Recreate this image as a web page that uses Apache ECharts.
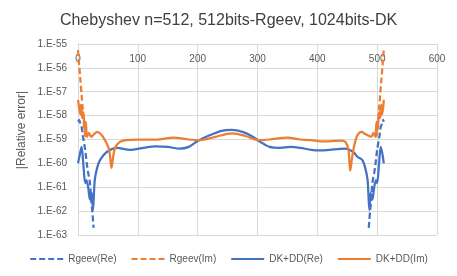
<!DOCTYPE html>
<html><head><meta charset="utf-8">
<script src="https://cdn.jsdelivr.net/npm/echarts@6/dist/echarts.min.js"></script>
<style>html,body{margin:0;padding:0;background:#fff}#c{width:457px;height:276px}</style>
</head><body><div id="c"></div>
<script>
var titleText = 'Chebyshev n=512, 512bits-Rgeev, 1024bits-DK';
var seriesNames = ['Rgeev(Re)', 'Rgeev(Im)', 'DK+DD(Re)', 'DK+DD(Im)'];
var xTicks = [0, 100, 200, 300, 400, 500, 600];
var yTickExponents = [-63, -62, -61, -60, -59, -58, -57, -56, -55];

var rgeevReX = [0, 2, 4, 6, 8, 12, 15, 17, 20, 22, 24, 26, null, 486, 488, 490, 492, 495, 497, 500, 504, 506, 508, 510, 511];
var rgeevReY = [5.5e-59, 6.6e-59, 4.5e-59, 3.4e-59, 1.5e-59, 3.7e-60, 8.7e-61, 4.0e-61, 1.5e-61, 3.0e-62, 9.3e-63, 2.0e-63, null, 2.0e-63, 9.3e-63, 3.0e-62, 1.5e-61, 4.0e-61, 8.7e-61, 3.7e-60, 1.5e-59, 3.4e-59, 4.5e-59, 6.6e-59, 5.5e-59];

var rgeevImX = [0, 2, 4, 6, 8, 10, 12, 14, null, 497, 499, 501, 503, 505, 507, 509, 511];
var rgeevImY = [5.6e-56, 1.3e-56, 3.1e-57, 7.4e-58, 1.7e-58, 4.1e-59, 1.5e-59, 1.3e-59, null, 1.3e-59, 1.5e-59, 4.1e-59, 1.7e-58, 7.4e-58, 3.1e-57, 1.3e-56, 5.6e-56];

var dkReX = [0, 3, 6, 9, 12, 14, 17, 20, 23, 25, 28, 32, 37, 48, 65, 87, 110, 130, 150, 170, 185, 200, 220, 240, 257, 275, 290, 305, 320, 338, 355, 371, 390, 405, 420, 446, 460, 467, 475, 480, 484, 487, 489, 492, 495, 498, 500, 503, 506, 509, 511];
var dkReY = [1.0e-60, 2.3e-60, 4.9e-60, 8.7e-61, 1.5e-61, 2.0e-61, 1.0e-61, 3.0e-62, 5.8e-62, 1.1e-62, 2.0e-61, 6.5e-61, 1.4e-60, 3.0e-60, 4.5e-60, 3.7e-60, 4.5e-60, 5.1e-60, 4.9e-60, 4.1e-60, 4.9e-60, 8.7e-60, 1.5e-59, 2.3e-59, 2.5e-59, 2.1e-59, 1.4e-59, 7.9e-60, 4.9e-60, 4.5e-60, 4.9e-60, 4.5e-60, 3.7e-60, 3.5e-60, 3.7e-60, 4.1e-60, 3.0e-60, 1.9e-60, 1.4e-60, 6.5e-61, 2.0e-61, 1.1e-62, 5.8e-62, 3.0e-62, 1.0e-61, 2.0e-61, 1.5e-61, 8.7e-61, 4.9e-60, 2.3e-60, 1.0e-60];

var dkImX = [0, 2, 4, 5, 7, 9, 11, 13, 15, 18, 22, 27, 32, 38, 45, 52, 56, 58, 62, 70, 80, 100, 130, 160, 185, 205, 230, 257, 280, 300, 320, 350, 371, 390, 405, 430, 440, 447, 452, 455, 458, 462, 467, 474, 480, 490, 494, 497, 499, 501, 503, 505, 507, 508, 510, 511];
var dkImY = [4.6e-58, 2.1e-58, 1.1e-58, 2.8e-58, 8.0e-59, 1.4e-58, 2.5e-59, 5.5e-59, 1.3e-59, 1.9e-59, 1.3e-59, 1.7e-59, 2.1e-59, 1.7e-59, 9.5e-60, 3.7e-60, 6.5e-61, 1.4e-60, 4.5e-60, 7.9e-60, 9.5e-60, 1.0e-59, 1.0e-59, 1.2e-59, 1.0e-59, 9.5e-60, 1.3e-59, 1.8e-59, 1.4e-59, 9.5e-60, 1.0e-59, 1.2e-59, 1.0e-59, 9.5e-60, 8.3e-60, 8.7e-60, 9.0e-60, 7.9e-60, 3.7e-60, 5.0e-61, 1.7e-60, 6.0e-60, 1.5e-59, 2.1e-59, 1.7e-59, 1.3e-59, 1.9e-59, 1.3e-59, 5.5e-59, 2.5e-59, 1.4e-58, 8.0e-59, 2.8e-58, 1.1e-58, 2.1e-58, 4.6e-58];

function pairs(xs, ys) {
  return xs.map(function (x, i) { return (x === null || ys[i] === null) ? ['-', '-'] : [x, ys[i]]; });
}
var blue = '#4472C4', orange = '#ED7D31', txt = '#595959';
var font = 'Liberation Sans';

var chart = echarts.init(document.getElementById('c'), null, {renderer: 'canvas', width: 457, height: 276});
chart.setOption({
  animation: false,
  backgroundColor: '#fff',
  title: {text: titleText, left: 'center', top: 8, textStyle: {fontFamily: font, fontSize: 16, fontWeight: 'normal', color: '#404040'}},
  grid: {left: 78, right: 20, top: 44, bottom: 41, containLabel: false, outerBoundsMode: 'none'},
  legend: {
    bottom: 7, left: 'center', itemWidth: 33, itemHeight: 10, itemGap: 14,
    itemStyle: {opacity: 0},
    textStyle: {fontFamily: font, fontSize: 10, color: txt},
    data: seriesNames
  },
  xAxis: {
    type: 'value', position: 'top', min: xTicks[0], max: xTicks[xTicks.length - 1], interval: 100,
    axisLine: {show: true, lineStyle: {color: '#D9D9D9'}},
    axisTick: {show: false},
    axisLabel: {inside: true, margin: 10, fontFamily: font, fontSize: 10, color: txt},
    splitLine: {show: true, lineStyle: {color: '#D9D9D9'}}
  },
  yAxis: {
    type: 'log', logBase: 10,
    splitNumber: 8,
    axisLine: {show: true, lineStyle: {color: '#D9D9D9'}},
    axisTick: {show: false},
    axisLabel: {margin: 11, fontFamily: font, fontSize: 10, color: txt,
      formatter: function (v, i) { return '1.E' + yTickExponents[i]; }},
    splitLine: {show: true, lineStyle: {color: '#D9D9D9'}}
  },
  graphic: [{
    type: 'text', x: 22, y: 130, rotation: Math.PI / 2,
    style: {text: '|Relative error|', fontFamily: font, fontSize: 12, fill: txt, textAlign: 'center', textVerticalAlign: 'middle'}
  }],
  series: [
    {name: seriesNames[0], type: 'line', symbol: 'none', smooth: 0.3, connectNulls: false, data: pairs(rgeevReX, rgeevReY),
      lineStyle: {color: blue, width: 2.25, type: [6, 3]}, itemStyle: {color: blue}},
    {name: seriesNames[1], type: 'line', symbol: 'none', smooth: 0.3, connectNulls: false, data: pairs(rgeevImX, rgeevImY),
      lineStyle: {color: orange, width: 2.25, type: [6, 3]}, itemStyle: {color: orange}},
    {name: seriesNames[2], type: 'line', symbol: 'none', smooth: 0.3, data: pairs(dkReX, dkReY),
      lineStyle: {color: blue, width: 2.25}, itemStyle: {color: blue}},
    {name: seriesNames[3], type: 'line', symbol: 'none', smooth: 0.3, data: pairs(dkImX, dkImY),
      lineStyle: {color: orange, width: 2.25}, itemStyle: {color: orange}}
  ]
});
</script></body></html>
